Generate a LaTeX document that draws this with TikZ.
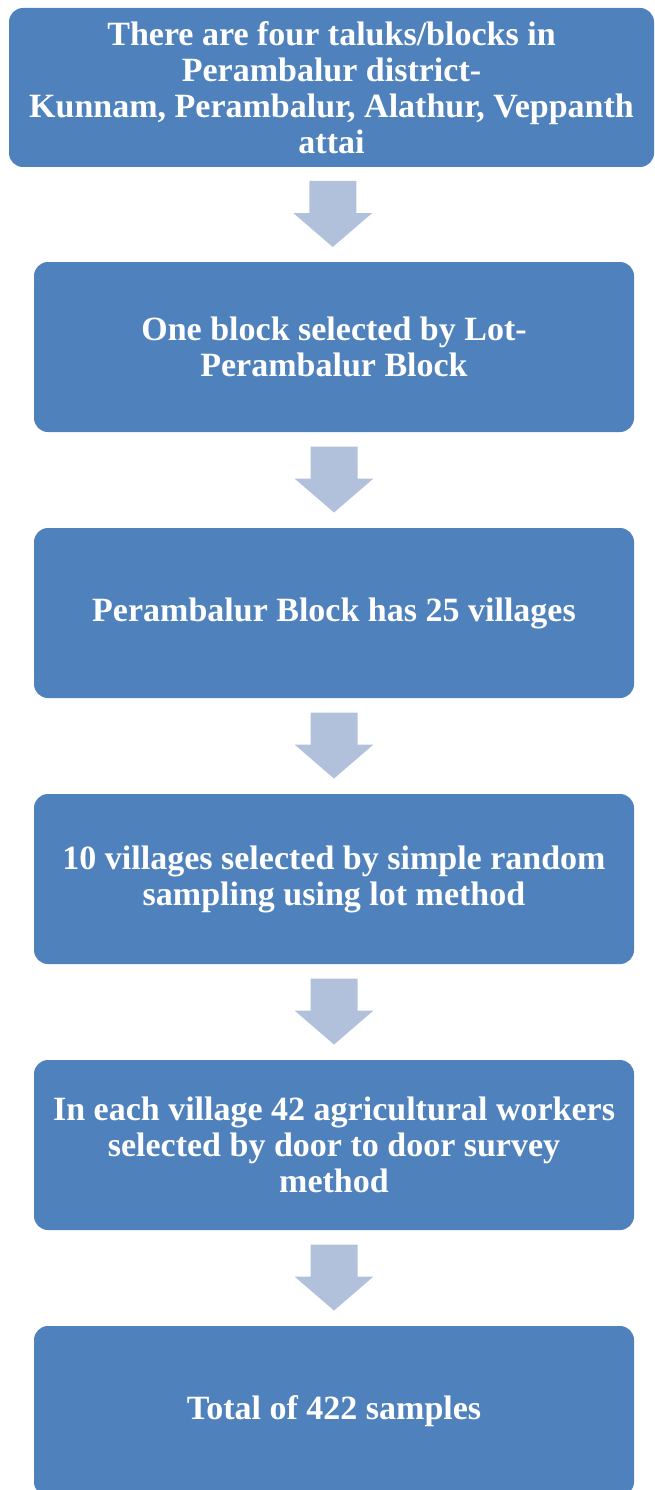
\documentclass[tikz,border=0pt]{standalone}
\usepackage{fontspec}
\setmainfont{Liberation Serif}
\usetikzlibrary{calc}
\definecolor{boxblue}{HTML}{4F81BD}
\definecolor{arrowblue}{HTML}{B2C1DB}
\begin{document}
\begin{tikzpicture}[x=1pt,y=-1pt,
  flowbox/.style={fill=boxblue, rounded corners=14pt, text=white,
    font=\bfseries\fontsize{34}{36}\selectfont, align=center, inner sep=0pt,
    minimum width=600pt, minimum height=170pt},
  flowarrow/.style={fill=arrowblue}]
\useasboundingbox (0,0) rectangle (655,1490);
\clip (0,0) rectangle (655,1490);
\node[flowbox, minimum width=645pt, minimum height=159pt] (b1) at (331.5,87.5)
  {There are four taluks/blocks in\\Perambalur district-\\Kunnam, Perambalur, Alathur, Veppanth\\attai};
\node[flowbox] (b2) at (334,347) {One block selected by Lot-\\Perambalur Block};
\node[flowbox] (b3) at (334,613) {Perambalur Block has 25 villages};
\node[flowbox] (b4) at (334,879) {10 villages selected by simple random\\sampling using lot method};
\node[flowbox] (b5) at (334,1145) {In each village 42 agricultural workers\\selected by door to door survey\\method};
\node[flowbox] (b6) at (334,1411) {Total of 422 samples};
\foreach \a/\b in {b1/b2,b2/b3,b3/b4,b4/b5,b5/b6}{
  \coordinate (m) at ($(\a.south)!0.5!(\b.north)$);
  \fill[flowarrow] ($(m)+(-23.5,-33.5)$) -- ($(m)+(23.5,-33.5)$) -- ($(m)+(23.5,-1.5)$)
    -- ($(m)+(39.5,-1.5)$) -- ($(m)+(0,32.5)$) -- ($(m)+(-39.5,-1.5)$)
    -- ($(m)+(-23.5,-1.5)$) -- cycle;
}
\end{tikzpicture}
\end{document}
